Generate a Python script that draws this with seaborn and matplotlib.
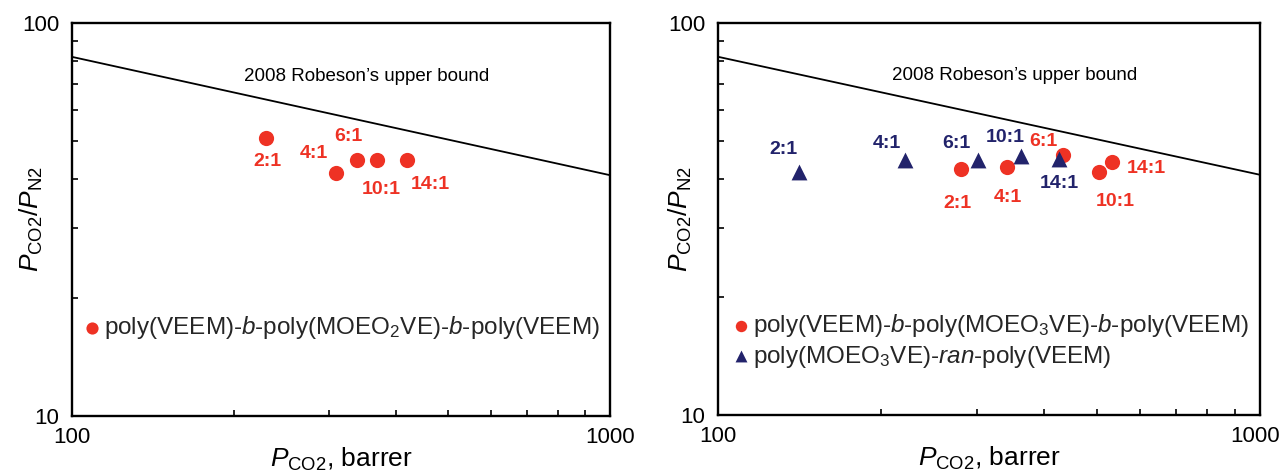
import matplotlib
matplotlib.use("Agg")
import matplotlib.pyplot as plt
import matplotlib.ticker as mticker
import matplotlib.transforms as mtransforms
import seaborn as sns
import pandas as pd

# ---------------- data ----------------
left_ratio = ['2:1', '4:1', '6:1', '10:1', '14:1']
left_pco2 = [229, 310, 339, 369, 419]
left_sel = [50.9, 41.5, 44.7, 44.9, 44.9]

block_ratio = ['2:1', '4:1', '6:1', '10:1', '14:1']
block_pco2 = [281, 342, 433, 504, 534]
block_sel = [42.4, 43.0, 46.0, 41.7, 44.2]

ran_ratio = ['2:1', '4:1', '6:1', '10:1', '14:1']
ran_pco2 = [141, 221, 302, 363, 425]
ran_sel = [41.7, 44.7, 44.7, 45.8, 45.1]

bound_pco2 = [100, 1000]
bound_sel = [82, 41]

left_legend = r'poly(VEEM)-$\mathit{b}$-poly(MOEO$_{\mathrm{2}}$VE)-$\mathit{b}$-poly(VEEM)'
block_legend = r'poly(VEEM)-$\mathit{b}$-poly(MOEO$_{\mathrm{3}}$VE)-$\mathit{b}$-poly(VEEM)'
ran_legend = r'poly(MOEO$_{\mathrm{3}}$VE)-$\mathit{ran}$-poly(VEEM)'
bound_text = "2008 Robeson\u2019s upper bound"
xlabel = r'$\mathit{P}_{\mathrm{CO2}}$, barrer'
ylabel = r'$\mathit{P}_{\mathrm{CO2}}$/$\mathit{P}_{\mathrm{N2}}$'

# ---------------- style ----------------
sns.set_theme(style="white")
plt.rcParams['font.family'] = ['Liberation Sans', 'DejaVu Sans']
plt.rcParams['mathtext.fontset'] = 'custom'
plt.rcParams['mathtext.rm'] = 'Liberation Sans'
plt.rcParams['mathtext.it'] = 'Liberation Sans:italic'
plt.rcParams['mathtext.bf'] = 'Liberation Sans:bold'

RED = '#EE3224'
NAVY = '#22236B'

# label offsets in pixels (layout only)
left_off = [(2, -23), (-22, 20), (-9, 24), (4, -30), (24, -25)]
block_off = [(-4, -34), (0, -31), (-20, 14), (17, -30), (34, -7)]
ran_off = [(-15, 22), (-18, 17), (-22, 17), (-16, 18), (1, -25)]

fig = plt.figure(figsize=(12.82, 4.75), dpi=100)
W, H = 1282, 475
ax1 = fig.add_axes([72 / W, 1 - 416 / H, 538 / W, 393 / H])
ax2 = fig.add_axes([718 / W, 1 - 415 / H, 542 / W, 392 / H])


def style_axis(ax, ylab_x):
    ax.set_xscale('log')
    ax.set_yscale('log')
    ax.set_xlim(100, 1000)
    ax.set_ylim(10, 100)
    ax.set_xticks([100, 1000])
    ax.set_xticklabels(['100', '1000'])
    ax.set_yticks([10, 100])
    ax.set_yticklabels(['10', '100'])
    ax.xaxis.set_minor_locator(mticker.LogLocator(base=10, subs=range(2, 10)))
    ax.yaxis.set_minor_locator(mticker.LogLocator(base=10, subs=range(2, 10)))
    ax.xaxis.set_minor_formatter(mticker.NullFormatter())
    ax.yaxis.set_minor_formatter(mticker.NullFormatter())
    ax.tick_params(which='both', direction='in', color='black', width=1.2,
                   top=False, right=False, bottom=True, left=True)
    ax.tick_params(which='major', length=6, labelsize=16, labelcolor='black')
    ax.tick_params(axis='x', which='major', pad=8)
    ax.tick_params(axis='y', which='major', pad=9)
    ax.tick_params(which='minor', length=4.5)
    for s in ax.spines.values():
        s.set_visible(True)
        s.set_color('black')
        s.set_linewidth(1.7)
    ax.grid(False)
    ax.set_xlabel(xlabel, fontsize=19, color='black')
    ax.set_ylabel(ylabel, fontsize=19, color='black')
    ax.xaxis.set_label_coords(0.5, -0.075)
    ax.yaxis.set_label_coords(ylab_x, 0.5)
    ax.text(0.548, 0.865, bound_text, transform=ax.transAxes, ha='center',
            va='center', fontsize=13.5, color='black')
    sns.lineplot(x=bound_pco2, y=bound_sel, ax=ax, color='black', lw=1.3)


def annotate(ax, xs, ys, labels, offs, color):
    for x, y, t, (dx, dy) in zip(xs, ys, labels, offs):
        ax.annotate(t, (x, y), xytext=(dx, dy), textcoords='offset pixels',
                    ha='center', va='center', fontsize=14,
                    fontweight='bold', color=color)


# ---------------- left panel ----------------
style_axis(ax1, -0.05)
df_l = pd.DataFrame({'pco2': left_pco2, 'sel': left_sel})
sns.scatterplot(data=df_l, x='pco2', y='sel', ax=ax1, color=RED, marker='o',
                s=120, linewidth=0, label=left_legend, zorder=3)
annotate(ax1, left_pco2, left_sel, left_ratio, left_off, RED)
h, l = ax1.get_legend_handles_labels()
ax1.legend(h, l, loc='center left', bbox_to_anchor=(0.022, 0.224),
           frameon=False, fontsize=17.5, handlelength=0.7, handletextpad=0.15,
           borderpad=0, borderaxespad=0, markerscale=0.8)

# ---------------- right panel ----------------
style_axis(ax2, -0.044)
df_b = pd.DataFrame({'pco2': block_pco2, 'sel': block_sel})
df_r = pd.DataFrame({'pco2': ran_pco2, 'sel': ran_sel})
sns.scatterplot(data=df_b, x='pco2', y='sel', ax=ax2, color=RED, marker='o',
                s=120, linewidth=0, label=block_legend, zorder=3)
sns.scatterplot(data=df_r, x='pco2', y='sel', ax=ax2, color=NAVY, marker='^',
                s=130, linewidth=0, label=ran_legend, zorder=4)
annotate(ax2, block_pco2, block_sel, block_ratio, block_off, RED)
annotate(ax2, ran_pco2, ran_sel, ran_ratio, ran_off, NAVY)
h, l = ax2.get_legend_handles_labels()
ax2.legend(h, l, loc='center left', bbox_to_anchor=(0.027, 0.189),
           frameon=False, fontsize=17.5, handlelength=0.7, handletextpad=0.15,
           borderpad=0, borderaxespad=0, markerscale=0.75, labelspacing=0.2)

# keep the right-most tick label inside the figure
lab = ax2.get_xticklabels()[-1]
lab.set_transform(lab.get_transform() +
                  mtransforms.ScaledTranslation(-5 / 100, 0, fig.dpi_scale_trans))

fig.savefig('out.png', dpi=100)
